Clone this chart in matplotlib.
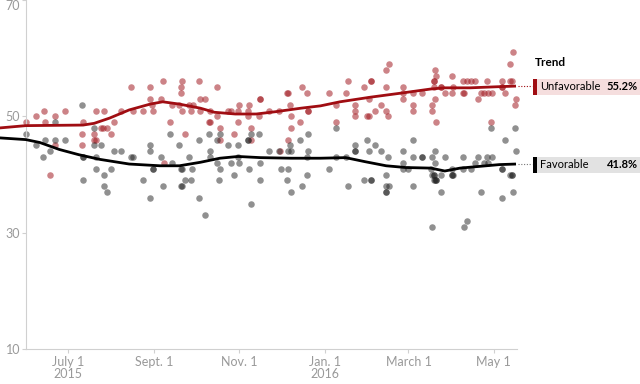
import matplotlib
matplotlib.use('Agg')
import matplotlib.pyplot as plt
import matplotlib.transforms as mtransforms
from matplotlib.patches import Rectangle
import pandas as pd

plt.rcParams['font.family'] = ['Lato', 'DejaVu Sans']

# einzelne umfragen, unfavorable
unfav_dates = [
    '2015-06-01', '2015-06-08', '2015-06-14', '2015-06-15', '2015-06-22', '2015-06-22', '2015-06-29', '2015-06-18',
    '2015-07-12', '2015-07-11', '2015-07-11', '2015-07-21', '2015-07-20', '2015-07-20', '2015-07-21',
    '2015-07-25', '2015-07-26', '2015-07-29', '2015-07-27', '2015-08-01', '2015-08-03', '2015-08-08',
    '2015-08-15', '2015-08-29', '2015-09-07', '2015-09-21', '2015-09-20', '2015-09-20', '2015-10-03', '2015-10-16',
    '2015-08-29', '2015-09-06', '2015-10-04', '2015-10-07',
    '2015-08-17', '2015-08-24', '2015-08-31', '2015-08-30', '2015-09-14', '2015-09-19', '2015-09-26', '2015-09-29',
    '2015-09-21', '2015-09-27', '2015-10-04', '2015-10-11', '2015-10-16', '2015-10-24', '2015-10-26',
    '2015-09-12', '2015-10-10', '2015-10-11', '2015-09-23', '2015-10-18', '2015-10-18', '2015-10-28', '2015-09-08',
    '2015-12-16', '2015-12-05', '2015-12-06', '2015-12-19', '2016-01-04', '2015-11-16', '2015-11-16',
    '2015-11-01', '2015-11-08', '2015-12-07', '2016-01-09',
    '2015-10-31', '2015-11-07', '2015-11-22', '2015-11-29', '2015-12-20', '2015-12-20',
    '2015-11-07', '2015-11-15', '2015-12-08', '2015-10-31', '2015-12-14', '2016-01-09',
    '2015-11-09', '2015-12-08', '2015-11-09', '2015-12-06', '2015-11-30',
    '2016-02-16', '2016-02-14', '2016-01-18', '2016-02-03', '2016-02-03', '2016-01-16', '2016-01-29', '2016-02-14', '2016-02-26',
    '2016-02-02', '2016-02-26', '2016-02-26', '2016-03-04', '2016-03-11', '2016-01-23', '2016-02-10', '2016-03-04',
    '2016-01-23', '2016-02-06', '2016-02-14', '2016-03-04', '2016-01-23', '2016-01-31', '2016-02-02', '2016-02-15',
    '2016-05-15', '2016-05-13', '2016-03-20', '2016-03-21', '2016-04-01', '2016-03-19', '2016-03-19',
    '2016-04-09', '2016-04-12', '2016-04-15', '2016-04-18', '2016-04-26', '2016-05-07', '2016-05-13', '2016-05-14',
    '2016-03-19', '2016-03-24', '2016-03-24', '2016-04-02', '2016-05-07', '2016-05-07',
    '2016-03-27', '2016-04-01', '2016-04-09', '2016-04-10', '2016-04-22', '2016-04-24', '2016-04-27', '2016-04-30', '2016-05-09',
    '2016-03-20', '2016-04-20', '2016-05-17', '2016-03-18', '2016-05-16', '2016-03-18', '2016-03-21', '2016-04-29',
]
unfav_pct = [
    49, 50, 51, 49, 50, 45, 51, 40,
    49, 47, 45, 51, 47, 46, 46,
    48, 48, 48, 51, 47, 49, 51,
    55, 55, 56, 56, 55, 54, 56, 55,
    53, 53, 53, 53,
    51, 51, 51, 52, 52, 52, 52, 52,
    51, 51, 51, 51, 50, 51, 51,
    49, 49, 49, 47, 48, 46, 47, 42,
    55, 54, 54, 54, 54, 53, 53,
    52, 52, 52, 52,
    51, 51, 51, 51, 51, 51,
    50, 50, 50, 49, 49, 49,
    48, 48, 46, 46, 44,
    59, 58, 56, 56, 56, 54, 55, 55, 55,
    53, 54, 53, 54, 54, 52, 52, 52,
    51, 51, 51, 51, 50, 50, 50, 50,
    61, 59, 58, 57, 57, 56, 56,
    56, 56, 56, 56, 56, 56, 56, 56,
    55, 55, 55, 55, 55, 55,
    54, 54, 54, 54, 54, 54, 54, 54, 54,
    53, 53, 53, 52, 52, 51, 49, 49,
]

# favorable
fav_dates = [
    '2015-06-01', '2015-06-08', '2015-06-13', '2015-06-15', '2015-06-18', '2015-06-22', '2015-06-22', '2015-06-29',
    '2015-07-11', '2015-07-12', '2015-07-12', '2015-07-12', '2015-07-20', '2015-07-20', '2015-07-21', '2015-07-21',
    '2015-07-25', '2015-07-27', '2015-07-27', '2015-07-29', '2015-08-01', '2015-08-03', '2015-08-08',
    '2015-09-12', '2015-08-29', '2015-08-29', '2015-08-15', '2015-08-17', '2015-09-06', '2015-09-19', '2015-09-26',
    '2015-10-03', '2015-10-10', '2015-10-16', '2015-10-18', '2015-10-11', '2015-10-11', '2015-10-24',
    '2015-08-31', '2015-08-31', '2015-09-14', '2015-09-20', '2015-09-21', '2015-09-28', '2015-10-16', '2015-10-18',
    '2015-10-26', '2015-10-28', '2015-08-24', '2015-09-23', '2015-09-27', '2015-10-17', '2015-09-07', '2015-09-20',
    '2015-09-21', '2015-08-29', '2015-10-03', '2015-10-07',
    '2015-11-09', '2015-11-15', '2015-12-20', '2016-01-09', '2015-11-07', '2015-11-07', '2015-12-14', '2015-10-31',
    '2015-12-07', '2015-11-22', '2015-11-29', '2015-12-06', '2015-12-08', '2015-12-20', '2015-10-31', '2015-12-19',
    '2016-01-09', '2015-11-01', '2015-11-16', '2015-11-08', '2015-12-01', '2015-12-06', '2016-01-04', '2015-12-19',
    '2015-11-16', '2015-12-05', '2015-12-16', '2015-12-08', '2015-11-09',
    '2016-01-31', '2016-03-04', '2016-01-23', '2016-02-06', '2016-01-23', '2016-01-23', '2016-02-02', '2016-02-10',
    '2016-02-26', '2016-01-16', '2016-02-15', '2016-03-04', '2016-03-11', '2016-03-11', '2016-02-26', '2016-02-26',
    '2016-03-01', '2016-03-17', '2016-02-14', '2016-01-29', '2016-02-03', '2016-02-03', '2016-01-18', '2016-02-14',
    '2016-02-16', '2016-03-04', '2016-02-14', '2016-02-14',
    '2016-04-29', '2016-05-16', '2016-05-09', '2016-03-20', '2016-05-17', '2016-03-18', '2016-03-27', '2016-04-09',
    '2016-04-20', '2016-04-26', '2016-04-30', '2016-03-20', '2016-04-18', '2016-04-24', '2016-04-27', '2016-04-01',
    '2016-04-09', '2016-04-15', '2016-05-07', '2016-05-07', '2016-03-18', '2016-03-19', '2016-03-19', '2016-03-24',
    '2016-04-01', '2016-04-01', '2016-04-02', '2016-05-13', '2016-05-14', '2016-05-14', '2016-03-19', '2016-03-20',
    '2016-03-21', '2016-03-21', '2016-03-24', '2016-04-22', '2016-05-15', '2016-05-07', '2016-03-18', '2016-04-10',
    '2016-04-12',
]
fav_pct = [
    47, 45, 43, 46, 44, 49, 46, 46,
    52, 43, 43, 39, 48, 45, 43, 41,
    45, 40, 38, 37, 41, 44, 44,
    47, 45, 44, 43, 43, 43, 45, 43,
    46, 47, 46, 47, 44, 43, 45,
    41, 41, 42, 41, 41, 41, 42, 41,
    42, 40, 39, 39, 39, 39, 38, 38,
    38, 36, 36, 33,
    47, 47, 47, 48, 46, 46, 46, 45,
    45, 44, 44, 44, 44, 44, 43, 43,
    43, 42, 42, 41, 41, 41, 41, 40,
    39, 39, 38, 37, 35,
    46, 46, 45, 45, 44, 44, 44, 44,
    44, 43, 43, 43, 43, 43, 42, 41,
    41, 41, 40, 39, 39, 39, 38, 38,
    38, 38, 37, 37,
    48, 48, 46, 44, 44, 43, 43, 43,
    43, 43, 43, 42, 42, 42, 42, 41,
    41, 41, 41, 41, 40, 40, 40, 40,
    40, 40, 40, 40, 40, 40, 39, 39,
    39, 39, 37, 37, 37, 36, 31, 31,
    32,
]

# trendlinien
unfav_trend_dates = ['2015-05-13', '2015-06-01', '2015-07-12', '2015-07-20', '2015-07-31', '2015-08-14',
                     '2015-08-29', '2015-09-07', '2015-09-19', '2015-10-04', '2015-10-14', '2015-10-29',
                     '2015-11-13', '2015-11-27', '2015-12-15', '2015-12-29', '2016-01-12', '2016-02-03',
                     '2016-02-25', '2016-03-17', '2016-03-27', '2016-04-14', '2016-05-05', '2016-05-17']
unfav_trend = [48.0, 48.4, 48.5, 48.8, 49.7, 51.1, 52.1, 52.5, 52.1, 51.4, 50.7, 50.4,
               50.4, 50.8, 51.4, 51.8, 52.5, 53.3, 54.0, 54.7, 54.9, 54.9, 55.1, 55.2]
fav_trend_dates = ['2015-05-13', '2015-06-01', '2015-06-11', '2015-06-25', '2015-07-09', '2015-07-24',
                   '2015-08-14', '2015-09-05', '2015-09-19', '2015-10-04', '2015-10-18', '2015-10-31',
                   '2015-11-16', '2015-12-08', '2015-12-29', '2016-01-16', '2016-01-30', '2016-02-14',
                   '2016-02-28', '2016-03-17', '2016-03-27', '2016-04-07', '2016-04-21', '2016-05-05',
                   '2016-05-17']
fav_trend = [46.3, 46.0, 45.5, 44.3, 43.4, 42.6, 41.8, 41.5, 41.5, 42.1, 42.8, 43.1,
             42.9, 42.8, 42.8, 42.9, 42.2, 41.5, 41.2, 41.1, 40.6, 41.1, 41.4, 41.7, 41.8]

tick_dates = ['2015-07-01', '2015-09-01', '2015-11-01', '2016-01-01', '2016-03-01', '2016-05-01']
tick_labels = ['July 1\n2015', 'Sept. 1', 'Nov. 1', 'Jan. 1\n2016', 'March 1', 'May 1']

RED = '#a00d12'
RED_DOT = '#a31d24'
GREY = '#999999'

fig = plt.figure(figsize=(6.4, 3.84), dpi=100)
ax = fig.add_axes([0, 35 / 384, 1, 349 / 384])

ax.scatter(pd.to_datetime(unfav_dates), unfav_pct, s=22, color=RED_DOT, alpha=0.55,
           linewidths=0, zorder=2)
ax.scatter(pd.to_datetime(fav_dates), fav_pct, s=22, color='#222222', alpha=0.5,
           linewidths=0, zorder=2)
ax.plot(pd.to_datetime(unfav_trend_dates), unfav_trend, color=RED, lw=2.0, zorder=3,
        solid_capstyle='butt')
ax.plot(pd.to_datetime(fav_trend_dates), fav_trend, color='black', lw=2.0, zorder=3,
        solid_capstyle='butt')

# achsen
jul1 = pd.Timestamp('2015-07-01')
ax.set_xlim(jul1 - pd.Timedelta(days=48.5), jul1 + pd.Timedelta(days=409.8))
ax.set_ylim(10, 70)
ax.set_yticks([10, 30, 50, 70])
ax.set_xticks(pd.to_datetime(tick_dates))
ax.set_xticklabels(tick_labels)

for s in ['top', 'right']:
    ax.spines[s].set_visible(False)
ax.spines['left'].set_position(('data', matplotlib.dates.date2num(pd.Timestamp('2015-06-01'))))
ax.spines['left'].set_color('#d0d0d0')
ax.spines['bottom'].set_color('#d0d0d0')
ax.spines['bottom'].set_bounds(matplotlib.dates.date2num(pd.Timestamp('2015-06-01')),
                               matplotlib.dates.date2num(pd.Timestamp('2016-05-18')))
ax.tick_params(axis='both', colors='#d0d0d0', labelcolor=GREY, labelsize=9, length=3, width=0.8)
ax.tick_params(axis='y', pad=1)
ax.tick_params(axis='x', pad=2)
for lab in ax.get_xticklabels():
    lab.set_linespacing(1.05)
ax.yaxis.get_major_ticks()[-1].label1.set_verticalalignment('top')

# legende rechts
tr = mtransforms.blended_transform_factory(fig.transFigure, ax.transData)
px = lambda v: v / 640
fig.text(px(535), 1 - 63 / 384, 'Trend', fontsize=8.5, fontweight='bold', va='center', ha='left')

entries = [
    ('Unfavorable', unfav_trend[-1], RED, '#f5dede', RED),
    ('Favorable', fav_trend[-1], 'black', '#e2e2e2', '#777777'),
]
for name, val, bar_col, bg, dot_col in entries:
    h = 2.75
    ax.add_patch(Rectangle((px(533), val - h / 2 - 0.1), px(640) - px(533), h, transform=tr,
                           facecolor=bg, edgecolor='none', clip_on=False, zorder=4))
    ax.add_patch(Rectangle((px(533), val - h / 2 - 0.1), px(4), h, transform=tr,
                           facecolor=bar_col, edgecolor='none', clip_on=False, zorder=5))
    ax.plot([px(518), px(532)], [val, val], transform=tr, color=dot_col, lw=0.8,
            ls=(0, (1, 1.5)), clip_on=False, zorder=4)
    ax.text(px(540), val - 0.1, name, transform=tr, fontsize=8, va='center', ha='left', zorder=6)
    ax.text(px(638), val - 0.1, f'{val:.1f}%', transform=tr, fontsize=8, fontweight='bold',
            va='center', ha='right', zorder=6)

fig.savefig('out.png', dpi=100)
